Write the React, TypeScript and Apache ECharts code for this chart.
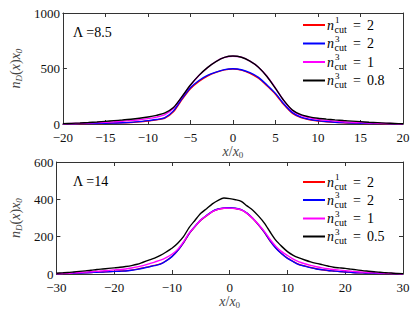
import React, { useEffect, useRef } from "react";
import * as echarts from "echarts";

// ---------- data ----------
const xTop = [-20, -19, -18, -17, -16, -15, -14, -13, -12, -11, -10, -9, -8, -7, -6, -5, -4, -3, -2, -1, 0, 1, 2, 3, 4, 5, 6, 7, 8, 9, 10, 11, 12, 13, 14, 15, 16, 17, 18, 19, 20];
const topRed = [1, 1, 2, 3, 4, 6, 8, 10, 14, 19, 27, 37, 54, 110, 220, 318, 384, 432, 465, 488, 496, 486, 456, 412, 344, 268, 172, 96, 58, 38, 27, 20, 15, 11, 8, 6, 4, 3, 2, 1, 1];
const topBlue = [1, 2, 3, 4, 5, 7, 9, 11, 15, 21, 30, 40, 58, 118, 228, 327, 392, 438, 468, 490, 498, 489, 462, 420, 352, 276, 180, 102, 62, 42, 30, 22, 16, 12, 9, 7, 5, 4, 3, 2, 1];
const topMagenta = [2, 4, 6, 9, 12, 16, 20, 25, 31, 38, 48, 62, 85, 142, 244, 348, 437, 507, 563, 600, 611, 602, 566, 512, 430, 324, 208, 120, 78, 56, 42, 33, 26, 20, 16, 12, 9, 7, 5, 3, 1];
const topBlack = [3, 6, 9, 13, 18, 24, 30, 36, 43, 52, 63, 78, 100, 148, 246, 351, 438, 508, 562, 600, 612, 601, 566, 512, 428, 321, 210, 125, 84, 64, 52, 44, 37, 31, 26, 21, 16, 12, 8, 5, 2];

const xBot = [-30, -29, -28, -27, -26, -25, -24, -23, -22, -21, -20, -19, -18, -17, -16, -15, -14, -13, -12, -11, -10, -9, -8, -7, -6, -5, -4, -3, -2, -1, 0, 1, 2, 3, 4, 5, 6, 7, 8, 9, 10, 11, 12, 13, 14, 15, 16, 17, 18, 19, 20, 21, 22, 23, 24, 25, 26, 27, 28, 29, 30];
const botRed = [1, 2, 3, 4, 5, 7, 8, 10, 11, 13, 14, 16, 17, 21, 26, 32, 39, 46, 54, 71, 94, 126, 167, 216, 254, 288, 312, 334, 347, 352, 354, 351, 344, 325, 297, 262, 223, 177, 139, 109, 85, 67, 51, 43, 35, 28, 23, 19, 16, 13, 11, 9, 7, 6, 5, 4, 3, 2, 2, 1, 1];
const botBlue = [1, 2, 3, 4, 5, 6, 8, 9, 11, 12, 14, 15, 16, 20, 25, 31, 38, 45, 53, 70, 93, 125, 168, 218, 256, 290, 314, 336, 348, 354, 355, 352, 345, 326, 298, 263, 224, 178, 138, 108, 84, 66, 50, 42, 34, 27, 23, 19, 16, 13, 11, 9, 7, 6, 5, 4, 3, 2, 2, 1, 1];
const botMagenta = [2, 3, 4, 6, 8, 10, 12, 15, 17, 19, 22, 24, 27, 32, 38, 45, 54, 64, 74, 88, 106, 132, 172, 220, 255, 290, 313, 334, 346, 352, 353, 350, 344, 325, 298, 265, 228, 185, 148, 120, 99, 80, 65, 55, 46, 39, 33, 28, 24, 21, 18, 15, 12, 10, 8, 6, 5, 4, 3, 2, 1];
const botBlack = [4, 6, 8, 11, 14, 17, 20, 24, 27, 30, 33, 36, 40, 45, 52, 63, 74, 85, 100, 118, 138, 165, 200, 250, 288, 325, 350, 376, 395, 407, 404, 398, 389, 365, 342, 310, 273, 225, 180, 148, 120, 100, 86, 75, 65, 57, 50, 43, 36, 33, 30, 26, 22, 18, 15, 12, 9, 7, 5, 3, 2];

const seriesColors = ["#ff0000", "#0000ff", "#ff00ff", "#000000"];
const topSup = ["1", "3", "3", "3"];
const topVal = ["2", "2", "1", "0.8"];
const botSup = ["1", "3", "3", "3"];
const botVal = ["2", "2", "1", "0.5"];
const topLambda = "Λ =8.5";
const botLambda = "Λ =14";

const topXTicks = { min: -20, max: 20, interval: 5 };
const topYTicks = { min: 0, max: 1000, interval: 500 };
const botXTicks = { min: -30, max: 30, interval: 10 };
const botYTicks = { min: 0, max: 600, interval: 200 };

// ---------- styles ----------
const FONT = "'Liberation Serif', 'Times New Roman', serif";
const AX = "#333333";

const pair = (xs: number[], ys: number[]) => xs.map((x, i) => [x, ys[i]]);
const fmtNum = (v: number) => (v < 0 ? "\u2212" + Math.abs(v) : String(v));

const xAxisName = {
  name: "{i|x}{r|/}{i|x}{s|0}",
  nameLocation: "middle" as const,
  nameGap: 18,
  nameTextStyle: {
    color: "#444",
    fontFamily: FONT,
    rich: {
      i: { fontFamily: FONT, fontStyle: "italic", fontSize: 14, color: "#444" },
      r: { fontFamily: FONT, fontSize: 14, color: "#444" },
      s: { fontFamily: FONT, fontSize: 9, color: "#444", padding: [7, 0, 0, 0] },
    },
  },
};
const yAxisName = {
  name: "{i|n}{s|D}{r|(}{i|x}{r|)}{i|x}{s|0}",
  nameLocation: "middle" as const,
  nameGap: 31,
  nameTextStyle: {
    color: "#444",
    fontFamily: FONT,
    rich: {
      i: { fontFamily: FONT, fontStyle: "italic", fontSize: 14, color: "#444" },
      r: { fontFamily: FONT, fontSize: 14, color: "#444" },
      s: { fontFamily: FONT, fontStyle: "italic", fontSize: 9, color: "#444", padding: [7, 0, 0, 0] },
    },
  },
};

function xAx(grid: number, ticks: any, pos: "bottom" | "top") {
  return {
    type: "value",
    gridIndex: grid,
    position: pos,
    ...ticks,
    axisLine: { show: true, onZero: false, lineStyle: { color: AX, width: 1 } },
    axisTick: { show: true, inside: true, length: 4, lineStyle: { color: AX } },
    axisLabel: {
      show: pos === "bottom",
      fontFamily: FONT,
      fontSize: 13,
      color: "#111",
      margin: 7,
      formatter: fmtNum,
    },
    splitLine: { show: false },
    ...(pos === "bottom" ? xAxisName : {}),
  };
}
function yAx(grid: number, ticks: any, pos: "left" | "right") {
  return {
    type: "value",
    gridIndex: grid,
    position: pos,
    ...ticks,
    axisLine: { show: true, onZero: false, lineStyle: { color: AX, width: 1 } },
    axisTick: { show: true, inside: true, length: 4, lineStyle: { color: AX } },
    axisLabel: {
      show: pos === "left",
      fontFamily: FONT,
      fontSize: 13,
      lineHeight: 11,
      color: "#111",
      margin: 3,
      formatter: (v: number) => String(v),
    },
    splitLine: { show: false },
    ...(pos === "left" ? yAxisName : {}),
  };
}

function legendGraphic(rows: number[], sups: string[], vals: string[]) {
  const els: any[] = [];
  rows.forEach((y, i) => {
    els.push({
      type: "line",
      shape: { x1: 303, y1: y, x2: 325, y2: y },
      style: { stroke: seriesColors[i], lineWidth: 2 },
    });
    els.push({
      type: "text",
      x: 327,
      y: y,
      style: { text: "n", fontFamily: FONT, fontStyle: "italic", fontSize: 14, fill: "#000", verticalAlign: "middle", align: "left" },
    });
    els.push({
      type: "text",
      x: 335,
      y: y - 5,
      style: { text: sups[i], fontFamily: FONT, fontSize: 9, lineHeight: 8, fill: "#000", verticalAlign: "middle", align: "left" },
    });
    els.push({
      type: "text",
      x: 334.5,
      y: y + 4,
      style: { text: "cut", fontFamily: FONT, fontSize: 10, lineHeight: 9, fill: "#000", verticalAlign: "middle", align: "left" },
    });
    els.push({
      type: "text",
      x: 353,
      y: y,
      style: { text: "=", fontFamily: FONT, fontSize: 14, fill: "#000", verticalAlign: "middle", align: "left" },
    });
    els.push({
      type: "text",
      x: 367,
      y: y,
      style: { text: vals[i], fontFamily: FONT, fontSize: 14, fill: "#000", verticalAlign: "middle", align: "left" },
    });
  });
  return els;
}

export default function App() {
  const ref = useRef<HTMLDivElement>(null);
  useEffect(() => {
    if (!ref.current) return;
    const chart = echarts.init(ref.current, null, { renderer: "svg" });
    const mk = (name: string, xi: number, yi: number, xs: number[], ys: number[], color: string) => ({
      name,
      type: "line",
      xAxisIndex: xi,
      yAxisIndex: yi,
      data: pair(xs, ys),
      symbol: "none",
      showSymbol: false,
      smooth: 0.25,
      lineStyle: { color, width: 1.4 },
      itemStyle: { color },
    });
    chart.setOption({
      animation: false,
      backgroundColor: "#ffffff",
      textStyle: { fontFamily: FONT },
      grid: [
        { left: 50, right: 12, top: 13, height: 111 },
        { left: 50, right: 12, top: 162, height: 112 },
      ],
      xAxis: [xAx(0, topXTicks, "bottom"), xAx(0, topXTicks, "top"), xAx(1, botXTicks, "bottom"), xAx(1, botXTicks, "top")],
      yAxis: [yAx(0, topYTicks, "left"), yAx(0, topYTicks, "right"), yAx(1, botYTicks, "left"), yAx(1, botYTicks, "right")],
      series: [
        mk("n1cut=2 (Λ=8.5)", 0, 0, xTop, topRed, seriesColors[0]),
        mk("n3cut=2 (Λ=8.5)", 0, 0, xTop, topBlue, seriesColors[1]),
        mk("n3cut=1 (Λ=8.5)", 0, 0, xTop, topMagenta, seriesColors[2]),
        mk("n3cut=0.8 (Λ=8.5)", 0, 0, xTop, topBlack, seriesColors[3]),
        mk("n1cut=2 (Λ=14)", 2, 2, xBot, botRed, seriesColors[0]),
        mk("n3cut=2 (Λ=14)", 2, 2, xBot, botBlue, seriesColors[1]),
        mk("n3cut=1 (Λ=14)", 2, 2, xBot, botMagenta, seriesColors[2]),
        mk("n3cut=0.5 (Λ=14)", 2, 2, xBot, botBlack, seriesColors[3]),
      ],
      graphic: [
        {
          type: "text",
          x: 73,
          y: 32,
          style: { text: topLambda, fontFamily: FONT, fontSize: 14, fill: "#000", verticalAlign: "middle" },
        },
        {
          type: "text",
          x: 73,
          y: 181,
          style: { text: botLambda, fontFamily: FONT, fontSize: 14, fill: "#000", verticalAlign: "middle" },
        },
        ...legendGraphic([25, 43.5, 62, 80.5], topSup, topVal),
        ...legendGraphic([182, 200, 218.5, 236.5], botSup, botVal),
      ],
    });
    return () => chart.dispose();
  }, []);
  return (
    <div
      ref={ref}
      style={{ position: "fixed", left: 0, top: 0, width: 415, height: 312, background: "#fff" }}
    />
  );
}
